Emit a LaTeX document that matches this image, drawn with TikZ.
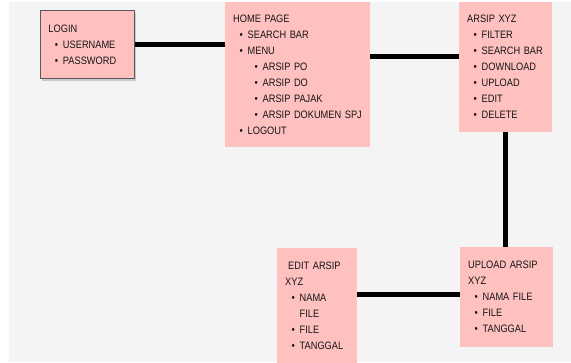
\documentclass[tikz,border=0pt]{standalone}
\usepackage{fontspec}
\setmainfont[FakeStretch=0.86]{Liberation Sans}
\usetikzlibrary{shadows}

\definecolor{boxpink}{HTML}{FFC0C0}
\definecolor{bggray}{HTML}{F4F4F4}
\definecolor{txtgray}{HTML}{151515}

\newcommand{\itm}[1]{\hspace*{6.5pt}\makebox[8pt][l]{\textbullet}\mbox{#1}}
\newcommand{\subitm}[1]{\hspace*{21.5pt}\makebox[8pt][l]{\textbullet}\mbox{#1}}

\begin{document}
\begin{tikzpicture}
  [x=1pt,y=-1pt,
  box/.style={fill=boxpink,anchor=north west,align=left,inner xsep=8pt,
    inner ysep=0pt,text=txtgray,font=\fontsize{10.75}{16}\selectfont},
  framed/.style={draw=black!65,line width=1pt,
    drop shadow={opacity=0.35,shadow xshift=1pt,shadow yshift=-2.5pt}},
  link/.style={line width=5pt,black}]

  \useasboundingbox (0,0) rectangle (571,362);
  \fill[bggray] (9,2) rectangle (571,362);

  \node[box,framed,text width=78pt,minimum height=68pt] (login) at (40,10)
    {LOGIN\\ \itm{USERNAME}\\ \itm{PASSWORD}};

  \node[box,text width=129pt,minimum height=145pt] (home) at (225,2)
    {HOME PAGE\\ \itm{SEARCH BAR}\\ \itm{MENU}\\ \subitm{ARSIP PO}\\
     \subitm{ARSIP DO}\\ \subitm{ARSIP PAJAK}\\ \subitm{ARSIP DOKUMEN SPJ}\\
     \itm{LOGOUT}};

  \node[box,text width=77pt,minimum height=130pt] (arsip) at (459,2)
    {ARSIP XYZ\\ \itm{FILTER}\\ \itm{SEARCH BAR}\\ \itm{DOWNLOAD}\\
     \itm{UPLOAD}\\ \itm{EDIT}\\ \itm{DELETE}};

  \node[box,text width=77pt,minimum height=100pt] (upload) at (460,247)
    {UPLOAD ARSIP\\ XYZ\\ \itm{NAMA FILE}\\ \itm{FILE}\\ \itm{TANGGAL}};

  \node[box,text width=64pt,minimum height=116pt] (edit) at (277,248)
    {\hspace*{3pt}EDIT ARSIP\\ XYZ\\ \itm{NAMA}\\ \hspace*{14.5pt}FILE\\
     \itm{FILE}\\ \itm{TANGGAL}};

  \draw[link] (login.east) -- (login.east -| home.west);
  \draw[link] ([yshift=18pt]home.east) -- ([yshift=18pt]home.east -| arsip.west);
  \draw[link] (arsip.south) -- (arsip.south |- upload.north);
  \draw[link] ([yshift=3pt]upload.west) -- ([yshift=3pt]upload.west -| edit.east);

\end{tikzpicture}
\end{document}
